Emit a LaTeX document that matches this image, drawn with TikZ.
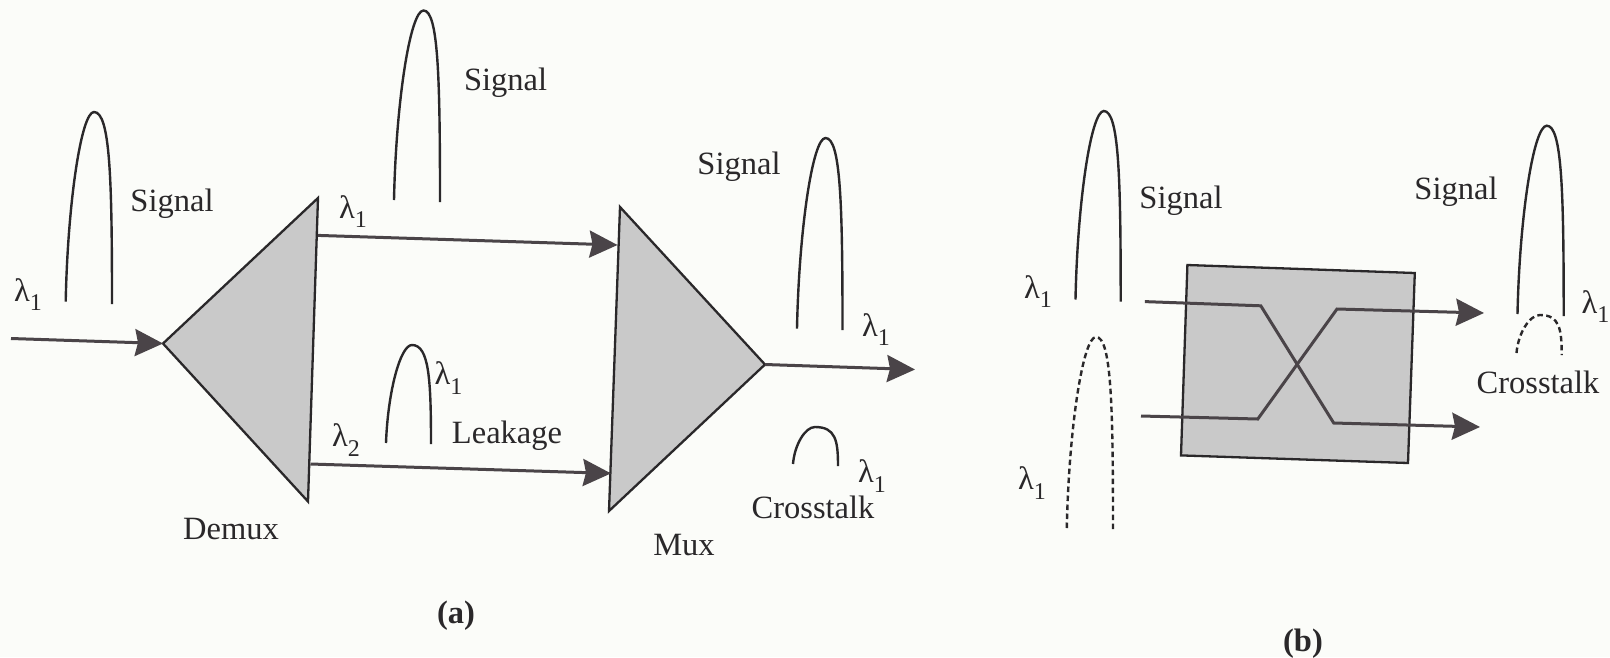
\documentclass[tikz,border=0pt]{standalone}
\usepackage{fontspec}
\setmainfont{Liberation Serif}
\usetikzlibrary{arrows.meta}
\definecolor{paper}{HTML}{FBFCF9}
\definecolor{ink}{HTML}{2A282A}
\definecolor{headc}{HTML}{4A4448}
\definecolor{boxfill}{HTML}{C9C9C9}
\newcommand{\lam}[1]{λ\raisebox{-0.28em}{\fontsize{24}{26}\selectfont #1}}
% left foot, apex, right foot
\newcommand{\pulsepath}[7][]{%
  \draw[pulseline,#1] (#2,#3) .. controls (#2+0.07*#4-0.07*#2,#3-0.52*#3+0.52*#5) and (#2+0.55*#4-0.55*#2,#5) .. (#4,#5)
    .. controls (#4+0.9*#6-0.9*#4,#5) and (#6,#5+0.35*#7-0.35*#5) .. (#6,#7);}
\tikzset{
  lbl/.style={font=\fontsize{32.5}{36}\selectfont,text=ink,inner sep=0pt},
  boldlbl/.style={lbl,font=\fontsize{32.5}{36}\selectfont\bfseries},
  device/.style={draw=ink,line width=2.3pt,fill=boxfill,line join=miter},
  pulseline/.style={draw=ink,line width=2.4pt},
  crossdash/.style={dash pattern=on 5.5pt off 3.5pt},
  conn/.style={draw=headc,line width=3pt,-{Stealth[length=28pt,width=27pt,inset=3pt,fill=headc]}}
}
\begin{document}
\begin{tikzpicture}[x=1pt,y=-1pt]
\useasboundingbox[fill=paper] (0,0) rectangle (1610,657);
% anchor points
\coordinate (inStart) at (11,338.5);
\coordinate (demuxTip) at (163,343.5);
\coordinate (demuxTop) at (318,198);
\coordinate (demuxBot) at (308,501.5);
\coordinate (muxTop) at (620,207);
\coordinate (muxTip) at (765,364.5);
\coordinate (muxBot) at (609,511);
\coordinate (d1) at (318,235.4);
\coordinate (m1) at (617.5,245);
\coordinate (d2) at (310.5,464);
\coordinate (m2) at (611,473.4);
\coordinate (outEnd) at (915,369.5);
% devices
\draw[device] (demuxTip) -- (demuxTop) -- (demuxBot) -- cycle;
\draw[device] (muxTop) -- (muxTip) -- (muxBot) -- cycle;
\draw[device] (1187.4,265) -- (1414.8,273) -- (1408,463) -- (1181,455.4) -- cycle;
% connectors (a)
\draw[conn] (inStart) -- (demuxTip);
\draw[conn] (d1) -- (m1);
\draw[conn] (d2) -- (m2);
\draw[conn] (muxTip) -- (outEnd);
% switch paths (b)
\coordinate (sAin) at (1144.8,301.6);
\coordinate (sAk1) at (1260.8,305.8);
\coordinate (sAk2) at (1333.7,423);
\coordinate (sAout) at (1480,427);
\coordinate (sBin) at (1141,416);
\coordinate (sBk1) at (1257.8,419);
\coordinate (sBk2) at (1337,309);
\coordinate (sBout) at (1484,313);
\draw[conn,line join=miter] (sAin) -- (sAk1) -- (sAk2) -- (sAout);
\draw[conn,line join=miter] (sBin) -- (sBk1) -- (sBk2) -- (sBout);
% pulses
\pulsepath{65.7}{301.6}{94}{112}{112}{304}
\pulsepath{394}{200}{423.5}{10.5}{440}{202}
\pulsepath{386}{443}{412}{345}{431}{444}
\pulsepath{797}{328.6}{825.5}{138}{842.5}{330}
\pulsepath{793}{464}{815}{427}{838}{466}
\pulsepath{1075.5}{299.5}{1103.8}{111}{1120.7}{301.6}
\pulsepath[crossdash]{1066.8}{528}{1096}{337}{1113}{530}
\pulsepath{1517.5}{314}{1546.8}{125.7}{1563.7}{316}
\pulsepath[crossdash]{1516.5}{353}{1540}{315}{1561.7}{355}
% labels
\node[lbl] (sig1) at (172,204) {Signal};
\node[lbl] (sig2) at (505.6,83) {Signal};
\node[lbl] (sig3) at (739,167) {Signal};
\node[lbl] (sig4) at (1181,201) {Signal};
\node[lbl] (sig5) at (1456,191.5) {Signal};
\node[lbl] (leak) at (507,436) {Leakage};
\node[lbl] (demux) at (231,529) {Demux};
\node[lbl] (mux) at (684,545) {Mux};
\node[lbl] (xa) at (813,507) {Crosstalk};
\node[lbl] (xb) at (1538,382) {Crosstalk};
\node[boldlbl] (capa) at (456,616) {(a)};
\node[boldlbl] (capb) at (1303,644) {(b)};
\node[lbl] (l1) at (28,295) {\lam{1}};
\node[lbl] (l2) at (353,212) {\lam{1}};
\node[lbl] (l3) at (346,440) {\lam{2}};
\node[lbl] (l4) at (448.6,378) {\lam{1}};
\node[lbl] (l5) at (876,330) {\lam{1}};
\node[lbl] (l6) at (872,476) {\lam{1}};
\node[lbl] (l7) at (1038,292) {\lam{1}};
\node[lbl] (l8) at (1032,483) {\lam{1}};
\node[lbl] (l9) at (1595.6,307) {\lam{1}};
\end{tikzpicture}
\end{document}
